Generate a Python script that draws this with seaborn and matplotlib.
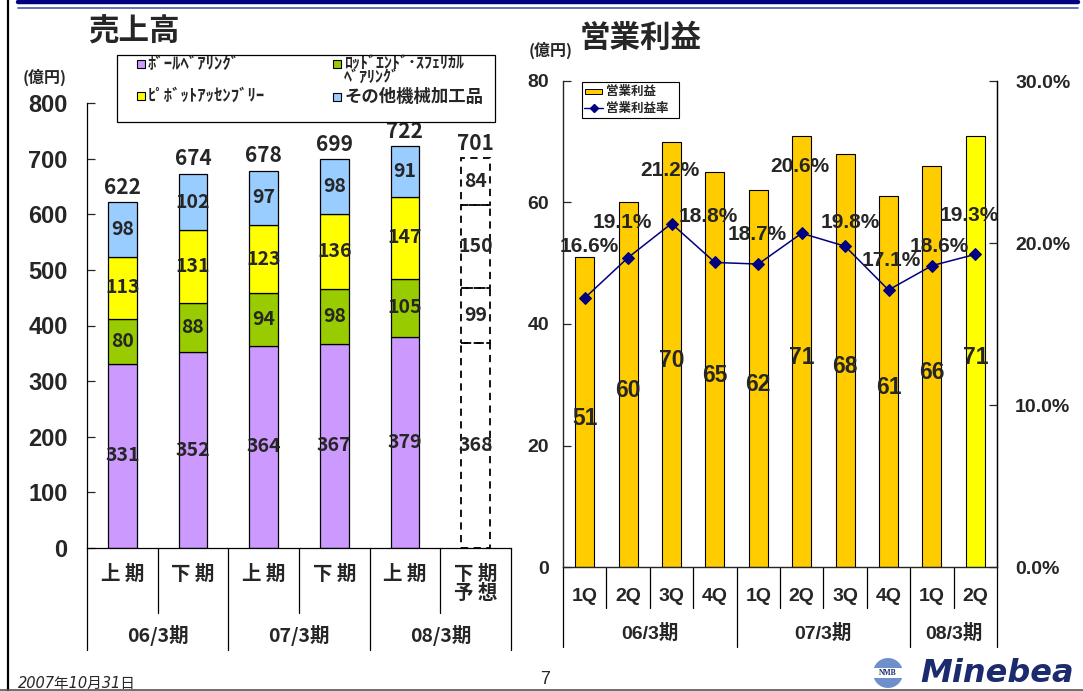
import numpy as np
import pandas as pd
import matplotlib
matplotlib.use("Agg")
import matplotlib.pyplot as plt
import seaborn as sns
from matplotlib.patches import Rectangle, Ellipse
from matplotlib.lines import Line2D
from matplotlib.transforms import blended_transform_factory

# ---------------- data ----------------
half_labels = ["上 期", "下 期", "上 期", "下 期", "上 期", "下 期\n予 想"]
half_fy = ["06/3期", "06/3期", "07/3期", "07/3期", "08/3期", "08/3期"]
segment_names = ["ﾎﾞｰﾙﾍﾞｱﾘﾝｸﾞ", "ﾛｯﾄﾞｴﾝﾄﾞ･ｽﾌｪﾘｶﾙ\nﾍﾞｱﾘﾝｸﾞ",
                 "ﾋﾟﾎﾞｯﾄｱｯｾﾝﾌﾞﾘｰ", "その他機械加工品"]
ball_bearings = [331, 352, 364, 367, 379, 368]
rod_end_bearings = [80, 88, 94, 98, 105, 99]
pivot_assemblies = [113, 131, 123, 136, 147, 150]
other_machined = [98, 102, 97, 98, 91, 84]
sales_totals = [622, 674, 678, 699, 722, 701]
n_actual_halves = 5          # last half-year is a forecast

quarter_labels = ["1Q", "2Q", "3Q", "4Q", "1Q", "2Q", "3Q", "4Q", "1Q", "2Q"]
quarter_fy = ["06/3期"] * 4 + ["07/3期"] * 4 + ["08/3期"] * 2
operating_income = [51, 60, 70, 65, 62, 71, 68, 61, 66, 71]
operating_margin = [16.6, 19.1, 21.2, 18.8, 18.7, 20.6, 19.8, 17.1, 18.6, 19.3]

# ---------------- styles ----------------
segment_colors = ["#CC99FF", "#99CC00", "#FFFF00", "#99CCFF"]
bar_colors = ["#FFCC00"] * 9 + ["#FFFF00"]
line_color = "#000080"
# (dx, dy) offsets in points for the margin labels
margin_label_offsets = [(3, 37), (-4, 25), (-1, 38), (-5, 33), (-1, 21),
                        (-1, 48), (4, 17), (2, 21), (5, 14), (-4, 28)]

sns.set_style("white")
CJK = "Noto Sans CJK JP"
LAT = "Liberation Sans"
plt.rcParams["font.family"] = [CJK, "DejaVu Sans"]

W, H = 1083, 691
fig = plt.figure(figsize=(W / 100, H / 100), dpi=100)
fig.patch.set_facecolor("white")


def fx(px):
    return px / W


def fy(py):
    return 1 - py / H


def dividers(ax, groups, short_len, long_len, lw=0.9):
    trans = blended_transform_factory(ax.transData, ax.transAxes)
    n = len(groups)
    pos = [(-0.5, True)] + [(i + 0.5, groups[i] != groups[i + 1]) for i in range(n - 1)] + [(n - 0.5, True)]
    for p, is_long in pos:
        ln = long_len if is_long else short_len
        ax.add_line(Line2D([p, p], [0, -ln], transform=trans, clip_on=False,
                           color="black", lw=lw))


def group_labels(ax, groups, y, **kw):
    trans = blended_transform_factory(ax.transData, ax.transAxes)
    seen = []
    for g in groups:
        if g not in seen:
            seen.append(g)
    for g in seen:
        idx = [i for i, v in enumerate(groups) if v == g]
        ax.text(np.mean(idx), y, g, transform=trans, ha="center", va="center", **kw)


# ================= 売上高 (stacked half-year sales) =================
ax1 = fig.add_axes([fx(87), fy(548), fx(511) - fx(87), fy(103) - fy(548)])
x = np.arange(len(half_labels))
bottoms = np.zeros(len(x))
segments = [ball_bearings, rod_end_bearings, pivot_assemblies, other_machined]
bw = 0.41
for vals, col in zip(segments, segment_colors):
    vals = np.array(vals, dtype=float)
    a = n_actual_halves
    ax1.bar(x[:a], vals[:a], bottom=bottoms[:a], width=bw, color=col,
            edgecolor="black", linewidth=0.9)
    ax1.bar(x[a:], vals[a:], bottom=bottoms[a:], width=bw, facecolor="none",
            edgecolor="black", linewidth=1.3, linestyle=(0, (4, 3)))
    for xi, v, b in zip(x, vals, bottoms):
        ax1.text(xi, b + v / 2, f"{int(v)}", ha="center", va="center",
                 fontsize=14, fontweight="bold", family=CJK)
    bottoms += vals
for xi, t in zip(x, sales_totals):
    ax1.text(xi, bottoms[xi] + 8, f"{t}", ha="center", va="bottom",
             fontsize=15, fontweight="bold", family=CJK)

ax1.set_xlim(-0.5, len(x) - 0.5)
ax1.set_ylim(0, 800)
ax1.set_yticks(range(0, 801, 100))
ax1.set_yticklabels([str(v) for v in range(0, 801, 100)],
                    fontsize=17, fontweight="bold", family=LAT)
ax1.set_xticks(x)
ax1.set_xticklabels(half_labels, fontsize=14, fontweight="bold", family=CJK,
                    linespacing=1.05, va="top")
ax1.tick_params(axis="y", direction="in", length=6, width=0.9, pad=14, left=True)
ax1.tick_params(axis="x", length=0, pad=12)
for s in ["top", "right"]:
    ax1.spines[s].set_visible(False)
for s in ["left", "bottom"]:
    ax1.spines[s].set_color("black")
    ax1.spines[s].set_linewidth(0.9)
dividers(ax1, half_fy, 65 / 445, 102 / 445)
group_labels(ax1, half_fy, -88 / 445, fontsize=14, fontweight="bold", family=CJK)

# legend box for the sales segments
fig.add_artist(Rectangle((fx(117), fy(122)), fx(495) - fx(117), fy(55) - fy(122),
                         transform=fig.transFigure, facecolor="white",
                         edgecolor="black", linewidth=0.9, zorder=5))
legend_spots = [(137, 64), (333, 64), (137, 96), (333, 97)]
for k, (lx, ly) in enumerate(legend_spots):
    fig.add_artist(Rectangle((fx(lx), fy(ly + 4)), fx(8), 8 / H,
                             transform=fig.transFigure, facecolor=segment_colors[k],
                             edgecolor="black", linewidth=0.8, zorder=6))
    name = segment_names[k]
    if "\n" in name:
        fig.text(fx(lx + 11), fy(ly - 9), name, ha="left", va="top", fontsize=11.5,
                 fontweight="bold", family=CJK, linespacing=0.85, zorder=7)
    else:
        size = 12.5 if k == 3 else 12
        fig.text(fx(lx + 11), fy(ly), name, ha="left", va="center", fontsize=size,
                 fontweight="bold", family=CJK, zorder=7)

fig.text(fx(88), fy(32), "売上高", ha="left", va="center", fontsize=22,
         fontweight="bold", family=CJK)
fig.text(fx(45), fy(77), "(億円)", ha="center", va="center", fontsize=11.5,
         fontweight="bold", family=CJK)

# ================= 営業利益 (quarterly operating income) =================
ax2 = fig.add_axes([fx(563), fy(567), fx(997) - fx(563), fy(81) - fy(567)])
qdf = pd.DataFrame({
    "period": [f"{g} {q}" for g, q in zip(quarter_fy, quarter_labels)],
    "income": operating_income,
})
sns.barplot(data=qdf, x="period", y="income", hue="period", palette=bar_colors,
            width=0.44, edgecolor="black", linewidth=0.8, saturation=1,
            legend=False, ax=ax2)
for i, v in enumerate(operating_income):
    ax2.text(i, v / 2 - 1, f"{v}", ha="center", va="center",
             fontsize=16.5, fontweight="bold", family=LAT, zorder=5)

ax2.set_ylim(0, 80)
ax2.set_xlim(-0.5, len(quarter_labels) - 0.5)
ax2.set_yticks(range(0, 81, 20))
ax2.set_yticklabels([str(v) for v in range(0, 81, 20)], fontsize=14,
                    fontweight="bold", family=LAT)
ax2.set_xticks(range(len(quarter_labels)))
ax2.set_xticklabels(quarter_labels, fontsize=14, fontweight="bold", family=LAT)
ax2.set_xlabel("")
ax2.set_ylabel("")
ax2.tick_params(axis="y", direction="in", length=6, width=0.9, pad=10, left=True)
ax2.tick_params(axis="x", length=0, pad=15)
ax2.spines["top"].set_visible(False)
for s in ["left", "bottom", "right"]:
    ax2.spines[s].set_color("black")
    ax2.spines[s].set_linewidth(0.9)
dividers(ax2, quarter_fy, 41 / 486, 80 / 486)
group_labels(ax2, quarter_fy, -66 / 486, fontsize=14, fontweight="bold",
             family=[LAT, CJK])

ax3 = ax2.twinx()
sns.lineplot(x=np.arange(len(operating_margin)), y=operating_margin, ax=ax3,
             color=line_color, linewidth=1.1, marker="D", markersize=6,
             markeredgecolor=line_color, markerfacecolor=line_color)
for i, (v, (dx, dy)) in enumerate(zip(operating_margin, margin_label_offsets)):
    ax3.annotate(f"{v:.1f}%", (i, v), xytext=(dx, dy), textcoords="offset points",
                 ha="center", va="center", fontsize=15,
                 fontweight="bold", family=LAT)
ax3.set_ylim(0, 30)
ax3.set_xlim(-0.5, len(quarter_labels) - 0.5)
ax3.set_yticks([0, 10, 20, 30])
ax3.set_yticklabels([f"{v:.1f}%" for v in [0, 10, 20, 30]], fontsize=14,
                    fontweight="bold", family=LAT)
ax3.set_ylabel("")
ax3.tick_params(axis="y", direction="in", length=6, width=0.9, pad=13, right=True)
ax3.spines["top"].set_visible(False)
ax3.spines["right"].set_color("black")
ax3.spines["right"].set_linewidth(0.9)

# legend box for operating income
fig.add_artist(Rectangle((fx(582), fy(118)), fx(679) - fx(582), fy(82) - fy(118),
                         transform=fig.transFigure, facecolor="white",
                         edgecolor="black", linewidth=0.8, zorder=5))
fig.add_artist(Rectangle((fx(585), fy(94)), fx(17), 5 / H, transform=fig.transFigure,
                         facecolor="#FFCC00", edgecolor="black", linewidth=0.7, zorder=6))
fig.add_artist(Line2D([fx(584), fx(603)], [fy(108), fy(108)], transform=fig.transFigure,
                      color=line_color, lw=1.0, zorder=6))
fig.add_artist(Line2D([fx(593.5)], [fy(108)], transform=fig.transFigure,
                      color=line_color, marker="D", markersize=4, zorder=7))
fig.text(fx(606), fy(91), "営業利益", ha="left", va="center", fontsize=9,
         fontweight="bold", family=CJK, zorder=7)
fig.text(fx(606), fy(108), "営業利益率", ha="left", va="center", fontsize=9,
         fontweight="bold", family=CJK, zorder=7)

fig.text(fx(580), fy(38), "営業利益", ha="left", va="center", fontsize=22,
         fontweight="bold", family=CJK)
fig.text(fx(551), fy(50), "(億円)", ha="center", va="center", fontsize=11.5,
         fontweight="bold", family=CJK)

# ================= page frame and footer =================
fig.add_artist(Line2D([fx(18), fx(1078)], [fy(1.5), fy(1.5)], transform=fig.transFigure,
                      color="#000080", lw=3.2))
fig.add_artist(Line2D([fx(18), fx(1078)], [fy(8), fy(8)], transform=fig.transFigure,
                      color="#4A5AAA", lw=1.2))
fig.add_artist(Line2D([fx(8), fx(8)], [fy(0), fy(691)], transform=fig.transFigure,
                      color="black", lw=1.6))
fig.add_artist(Line2D([fx(0), fx(1083)], [fy(689.5), fy(689.5)], transform=fig.transFigure,
                      color="#555555", lw=1.2))
fig.text(fx(18), fy(683), "2007年10月31日", ha="left", va="center", fontsize=10.5,
         style="italic", family=["DejaVu Sans", CJK])
fig.text(fx(545), fy(680), "7", ha="center", va="center", fontsize=13, family=LAT)
fig.add_artist(Ellipse((fx(888), fy(673)), fx(30), 30 / H, transform=fig.transFigure,
                       facecolor="#6F8FCB", edgecolor="none"))
fig.add_artist(Rectangle((fx(873), fy(678)), fx(30), 10 / H, transform=fig.transFigure,
                         facecolor="white", edgecolor="none"))
fig.text(fx(888), fy(673), "NMB", ha="center", va="center", fontsize=5.5,
         fontweight="bold", color="#1C2A6E", family="Liberation Serif")
fig.text(fx(997), fy(674), "Minebea", ha="center", va="center", fontsize=23,
         fontweight="bold", style="italic", color="#1C2A6E", family="DejaVu Sans")

fig.savefig("out.png", dpi=100, facecolor="white")
